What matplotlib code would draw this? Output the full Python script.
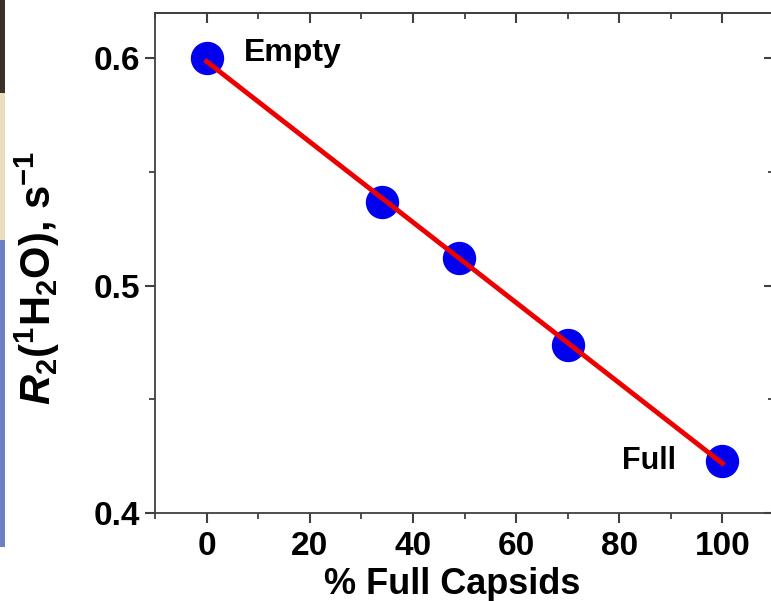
#!/usr/bin/env python3
import numpy as np
import matplotlib
matplotlib.use("Agg")
import matplotlib.pyplot as plt
from matplotlib.patches import Rectangle

# data
pct_full = [0, 34, 49, 70, 100]
r2_water = [0.600, 0.537, 0.512, 0.474, 0.423]
x_ticks = [0, 20, 40, 60, 80, 100]
y_ticks = [0.4, 0.5, 0.6]
point_labels = ["Empty", "Full"]


def main():
    plt.rcParams["font.family"] = ["Liberation Sans", "DejaVu Sans"]
    plt.rcParams["font.weight"] = "bold"
    plt.rcParams["mathtext.fontset"] = "custom"
    plt.rcParams["mathtext.rm"] = "Liberation Sans:bold"
    plt.rcParams["mathtext.it"] = "Liberation Sans:bold:italic"
    plt.rcParams["mathtext.bf"] = "Liberation Sans:bold"

    fig = plt.figure(figsize=(7.71, 6.01), dpi=100)

    # coloured strip left over from the slide background
    strip = [(0.845, 1.0, "#3b3129"), (0.60, 0.845, "#e9dfbf"), (0.09, 0.60, "#6f7fc4")]
    for y0, y1, col in strip:
        fig.add_artist(Rectangle((0, y0), 5 / 771, y1 - y0, transform=fig.transFigure,
                                 color=col, lw=0))

    pos = [155 / 771, 88 / 601, 619 / 771, 500 / 601]
    ax = fig.add_axes(pos)

    # linear fit through the points
    slope, icpt = np.polyfit(pct_full, r2_water, 1)
    xs = np.array([pct_full[0], pct_full[-1]])
    ax.plot(pct_full, r2_water, "o", color="#0000ee", ms=23, zorder=2)
    ax.plot(xs, slope * xs + icpt, color="#ee0000", lw=3.5, zorder=3)

    ax.text(pct_full[0] + 7.3, r2_water[0] + 0.0025, point_labels[0], fontsize=23,
            fontweight="bold", ha="left", va="center")
    ax.text(pct_full[-1] - 9.0, r2_water[-1], point_labels[1], fontsize=22,
            fontweight="bold", ha="right", va="center")

    ax.set_xlim(-10, 110)
    ax.set_ylim(0.4, 0.62)
    ax.set_xticks(x_ticks)
    ax.set_xticks(np.arange(-10, 111, 10), minor=True)
    ax.set_yticks(y_ticks)
    ax.set_yticklabels(["%.1f" % v for v in y_ticks])
    ax.set_yticks([0.45, 0.55], minor=True)

    tick_col = "#404040"
    for side in ax.spines.values():
        side.set_color(tick_col)
        side.set_linewidth(1.3)

    ax.tick_params(axis="both", which="major", labelsize=24, length=7, width=1.5,
                   color=tick_col, direction="out")
    ax.tick_params(axis="both", which="minor", length=4, width=1.3, color=tick_col,
                   direction="out")
    ax.tick_params(axis="x", which="major", pad=6)
    ax.tick_params(axis="y", which="major", pad=4)

    # top and right ticks point inward
    top = ax.secondary_xaxis("top")
    top.set_xticks(x_ticks)
    top.set_xticks(np.arange(-10, 111, 10), minor=True)
    right = ax.secondary_yaxis("right")
    right.set_yticks(y_ticks)
    right.set_yticks([0.45, 0.55], minor=True)
    top.tick_params(which="both", direction="in", color=tick_col, labeltop=False)
    right.tick_params(which="both", direction="in", color=tick_col, labelright=False)
    for sec in (top, right):
        sec.tick_params(which="major", length=7, width=1.5)
        sec.tick_params(which="minor", length=4, width=1.3)
        for side in sec.spines.values():
            side.set_color(tick_col)
            side.set_linewidth(1.3)

    ax.set_xlabel("% Full Capsids", fontsize=26, fontweight="bold")
    ax.xaxis.set_label_coords(0.48, -0.108)
    ax.set_ylabel(r"$R_2$($^1$H$_2$O), s$^{-1}$", fontsize=30, fontweight="bold")
    ax.yaxis.set_label_coords(-0.15, 0.47)

    fig.savefig("out.png", dpi=100)


if __name__ == "__main__":
    main()
